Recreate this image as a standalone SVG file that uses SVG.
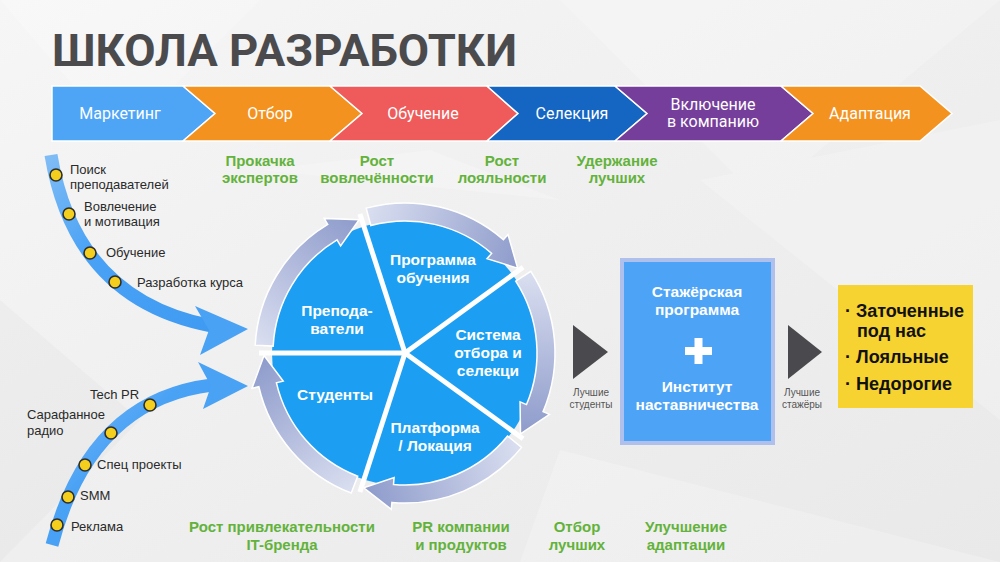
<svg xmlns="http://www.w3.org/2000/svg" width="1000" height="562" viewBox="0 0 1000 562">
<defs>
<linearGradient id="bg" x1="0" y1="0" x2="1" y2="1">
<stop offset="0" stop-color="#f6f6f6"/><stop offset="0.5" stop-color="#efefef"/><stop offset="1" stop-color="#e9e9e9"/>
</linearGradient>
<linearGradient id="blueArrow" x1="0" y1="0" x2="1" y2="1">
<stop offset="0" stop-color="#7fbcf5"/><stop offset="0.4" stop-color="#4aa2f5"/><stop offset="1" stop-color="#3f9bf2"/>
</linearGradient>
<linearGradient id="ringGrad" gradientUnits="userSpaceOnUse" x1="140.8" y1="7.4" x2="45.9" y2="133.3">
<stop offset="0" stop-color="#d8ddef"/><stop offset="1" stop-color="#8e9bcb"/>
</linearGradient>
<path id="ringSeg" d="M149.79,7.85 A150,150 0 0 1 77.26,128.58 L80.86,134.58 L45.91,133.32 L64.38,107.15 L67.99,113.15 A132,132 0 0 0 131.82,6.91 Z"/>
</defs>
<style>
.chev{stroke:#ffffff;stroke-width:1.5}
.chevt{font-family:Roboto,"Liberation Sans",sans-serif;font-size:16px;fill:#ffffff;text-anchor:middle}
.green{font-family:"Liberation Sans",Arial,sans-serif;font-weight:bold;font-size:15px;fill:#63b23b;text-anchor:middle}
.small{font-family:"Liberation Sans",Arial,sans-serif;font-size:13px;fill:#2a2a2a}
.dot{fill:#f5cf1d;stroke:#2d2d2d;stroke-width:1.6}
.slice{font-family:"Liberation Sans",Arial,sans-serif;font-weight:bold;font-size:15.5px;fill:#ffffff;text-anchor:middle}
.tiny{font-family:"Liberation Sans",Arial,sans-serif;font-size:10px;fill:#555555;text-anchor:middle}
.boxt{font-family:"Liberation Sans",Arial,sans-serif;font-weight:bold;font-size:15.5px;fill:#ffffff;text-anchor:middle}
.yel{font-family:"Liberation Sans",Arial,sans-serif;font-weight:bold;font-size:18px;fill:#111111}
.ring{fill:url(#ringGrad);stroke:#ffffff;stroke-width:1.5}
.divider{stroke:#ffffff;stroke-width:5;stroke-linecap:butt}
.tri{fill:#4a4a4e}
</style>

<!-- background -->
<rect width="1000" height="562" fill="url(#bg)"/>
<g opacity="0.22">
<polygon points="0,0 260,0 120,140" fill="#ffffff"/>
<polygon points="560,0 1000,0 760,200" fill="#ffffff"/>
<polygon points="700,180 1000,120 1000,420" fill="#ffffff"/>
<polygon points="0,300 140,420 0,562" fill="#dcdcdc"/>
<polygon points="560,450 1000,562 520,562" fill="#ffffff"/>
<polygon points="260,170 560,200 430,150" fill="#ffffff"/>
</g>

<!-- title -->
<g id="title">
<text x="52" y="66" font-family="Roboto,'Liberation Sans',sans-serif" font-weight="bold" font-size="45" fill="#4b4b4e" textLength="465" lengthAdjust="spacingAndGlyphs">ШКОЛА РАЗРАБОТКИ</text>
</g>

<!-- process chevrons -->
<g id="chevrons">
<g id="chev-marketing"><polygon class="chev" fill="#4ea5f6" points="52,86 183,86 215,113.5 183,141 52,141"/><text class="chevt" x="120" y="119">Маркетинг</text></g>
<g id="chev-otbor"><polygon class="chev" fill="#f3921f" points="183,86 330,86 362,113.5 330,141 183,141 215,113.5"/><text class="chevt" x="270" y="119">Отбор</text></g>
<g id="chev-obuchenie"><polygon class="chev" fill="#ee5b5a" points="330,86 487,86 518,113.5 487,141 330,141 362,113.5"/><text class="chevt" x="423" y="119">Обучение</text></g>
<g id="chev-selekciya"><polygon class="chev" fill="#1565c2" points="487,86 615,86 647,113.5 615,141 487,141 518,113.5"/><text class="chevt" x="572" y="119">Селекция</text></g>
<g id="chev-vklyuchenie"><polygon class="chev" fill="#763e9b" points="615,86 781,86 813,113.5 781,141 615,141 647,113.5"/><text class="chevt" x="713" y="110">Включение</text><text class="chevt" x="713" y="127">в компанию</text></g>
<g id="chev-adaptaciya"><polygon class="chev" fill="#f3921f" points="781,86 920,86 952,113.5 920,141 781,141 813,113.5"/><text class="chevt" x="870" y="119">Адаптация</text></g>
</g>

<!-- green outcome labels top -->
<g id="top-labels">
<text class="green" x="260" y="166">Прокачка</text><text class="green" x="260" y="183">экспертов</text>
<text class="green" x="377" y="166">Рост</text><text class="green" x="377" y="183">вовлечённости</text>
<text class="green" x="502" y="166">Рост</text><text class="green" x="502" y="183">лояльности</text>
<text class="green" x="617" y="166">Удержание</text><text class="green" x="617" y="183">лучших</text>
</g>

<!-- connectors: curved arrows into cycle -->
<g id="connectors">
<path d="M51,155 Q75,300 212,326" fill="none" stroke="url(#blueArrow)" stroke-width="13"/>
<polygon points="195,306 248,329 200,355 209,330" fill="#4aa2f5"/>
<path d="M52,545 Q90,400 212,385" fill="none" stroke="url(#blueArrow)" stroke-width="13"/>
<polygon points="198,362 248,386 203,409 211,386" fill="#4aa2f5"/>
<polygon class="tri" points="573,325 608,352 573,379"/>
<polygon class="tri" points="788,325 822,352 788,379"/>
</g>

<!-- top track stops -->
<g id="track-top">
<circle class="dot" cx="56" cy="175" r="6"/>
<circle class="dot" cx="69" cy="214" r="6"/>
<circle class="dot" cx="90" cy="253" r="6"/>
<circle class="dot" cx="115" cy="282" r="6"/>
<text class="small" x="70" y="174">Поиск</text>
<text class="small" x="70" y="189">преподавателей</text>
<text class="small" x="84" y="211">Вовлечение</text>
<text class="small" x="84" y="226">и мотивация</text>
<text class="small" x="106" y="257">Обучение</text>
<text class="small" x="137" y="287">Разработка курса</text>
</g>

<!-- bottom track stops -->
<g id="track-bottom">
<circle class="dot" cx="57" cy="525" r="6"/>
<circle class="dot" cx="68" cy="497" r="6"/>
<circle class="dot" cx="85" cy="465" r="6"/>
<circle class="dot" cx="111" cy="433" r="6"/>
<circle class="dot" cx="150" cy="405" r="6"/>
<text class="small" x="90" y="399">Tech PR</text>
<text class="small" x="27" y="419">Сарафанное</text>
<text class="small" x="27" y="435">радио</text>
<text class="small" x="97" y="469">Спец проекты</text>
<text class="small" x="80" y="500">SMM</text>
<text class="small" x="71" y="531">Реклама</text>
</g>

<!-- cycle -->
<g id="cycle">
<circle cx="405" cy="353" r="133" fill="#1c9ff2"/>
<g transform="translate(405,353)">
<use href="#ringSeg" class="ring" transform="rotate(180)"/>
<use href="#ringSeg" class="ring" transform="rotate(252)"/>
<use href="#ringSeg" class="ring" transform="rotate(324)"/>
<use href="#ringSeg" class="ring" transform="rotate(36)"/>
<use href="#ringSeg" class="ring" transform="rotate(108)"/>
</g>
<line class="divider" x1="405" y1="353" x2="259" y2="353"/>
<line class="divider" x1="405" y1="353" x2="359.9" y2="214.1"/>
<line class="divider" x1="405" y1="353" x2="523.1" y2="267.2"/>
<line class="divider" x1="405" y1="353" x2="523.1" y2="438.8"/>
<line class="divider" x1="405" y1="353" x2="359.9" y2="491.9"/>
</g>
<g id="node-prepodavateli"><text class="slice" x="337" y="316">Препода-</text><text class="slice" x="337" y="334">ватели</text></g>
<g id="node-programma"><text class="slice" x="433" y="265">Программа</text><text class="slice" x="433" y="283">обучения</text></g>
<g id="node-sistema"><text class="slice" x="488" y="340">Система</text><text class="slice" x="488" y="358">отбора и</text><text class="slice" x="488" y="376">селекци</text></g>
<g id="node-platforma"><text class="slice" x="435" y="433">Платформа</text><text class="slice" x="435" y="451">/ Локация</text></g>
<g id="node-studenty"><text class="slice" x="335" y="400">Студенты</text></g>

<!-- flow labels -->
<g id="flow-labels">
<text class="tiny" x="591" y="396">Лучшие</text><text class="tiny" x="591" y="408">студенты</text>
<text class="tiny" x="802" y="396">Лучшие</text><text class="tiny" x="802" y="408">стажёры</text>
</g>

<!-- internship box -->
<g id="node-stazher">
<rect x="622" y="260" width="151" height="183" fill="#4da3f6" stroke="#b0c0ec" stroke-width="4"/>
<text class="boxt" x="697" y="297">Стажёрская</text>
<text class="boxt" x="697" y="315">программа</text>
<rect x="685" y="347" width="27" height="8" fill="#ffffff"/>
<rect x="694.5" y="338" width="8" height="26" fill="#ffffff"/>
<text class="boxt" x="697" y="392">Институт</text>
<text class="boxt" x="697" y="410">наставничества</text>
</g>

<!-- result box -->
<g id="node-result">
<rect x="838" y="285" width="135" height="123" fill="#f6d330"/>
<text class="yel" x="845" y="317">· Заточенные</text>
<text class="yel" x="857" y="337">под нас</text>
<text class="yel" x="845" y="363">· Лояльные</text>
<text class="yel" x="845" y="390">· Недорогие</text>
</g>

<!-- green outcome labels bottom -->
<g id="bottom-labels">
<text class="green" x="282" y="532">Рост привлекательности</text><text class="green" x="282" y="550">IT-бренда</text>
<text class="green" x="461" y="532">PR компании</text><text class="green" x="461" y="550">и продуктов</text>
<text class="green" x="577" y="532">Отбор</text><text class="green" x="577" y="550">лучших</text>
<text class="green" x="686" y="532">Улучшение</text><text class="green" x="686" y="550">адаптации</text>
</g>
</svg>
